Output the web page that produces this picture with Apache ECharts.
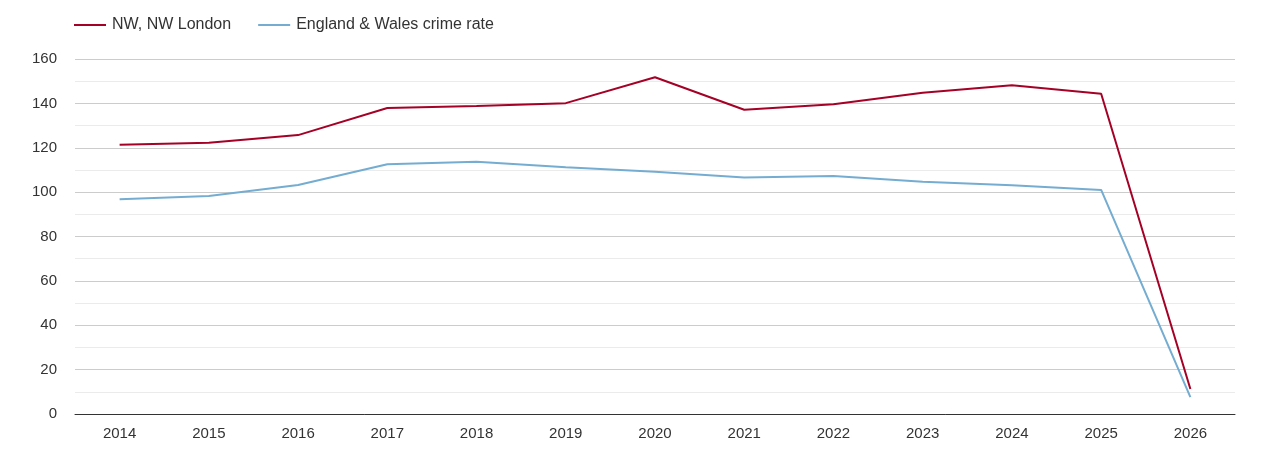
<!DOCTYPE html>
<html><head><meta charset="utf-8">
<script src="https://cdn.jsdelivr.net/npm/echarts@6/dist/echarts.min.js"></script>
<style>html,body{margin:0;padding:0;background:#fff}#c{width:1270px;height:450px}</style>
</head><body><div id="c"></div>
<script>
const years = ['2014','2015','2016','2017','2018','2019','2020','2021','2022','2023','2024','2025','2026'];
const nwLondon = [121.3, 122.2, 125.7, 137.9, 138.8, 140.1, 151.8, 137.1, 139.6, 144.8, 148.2, 144.3, 11.3];
const englandWales = [96.8, 98.3, 103.2, 112.6, 113.7, 111.2, 109.2, 106.6, 107.3, 104.7, 103.1, 101.0, 7.6];
const seriesNames = ['NW, NW London', 'England & Wales crime rate'];

const chart = echarts.init(document.getElementById('c'));
chart.setOption({
  animation: false,
  textStyle: { fontFamily: '"Liberation Sans", Arial, sans-serif' },
  legend: {
    left: 69, top: 12, itemWidth: 32, itemHeight: 2, itemGap: 27,
    icon: 'rect',
    textStyle: { fontSize: 16, color: '#333', padding: [0, 0, 0, 1] },
    data: seriesNames
  },
  grid: { left: 75, right: 35, top: 59, bottom: 36 },
  xAxis: {
    type: 'category', data: years, boundaryGap: true,
    axisLine: { lineStyle: { color: '#333', width: 1 } },
    axisTick: { show: false },
    axisLabel: { fontSize: 15, color: '#333', margin: 12 }
  },
  yAxis: {
    type: 'value', min: 0, max: 160, interval: 20,
    axisLine: { show: false }, axisTick: { show: false },
    axisLabel: { fontSize: 15, color: '#333', margin: 18 },
    splitLine: { lineStyle: { color: '#ccc', width: 1 } },
    minorTick: { show: false, splitNumber: 2 },
    minorSplitLine: { show: true, lineStyle: { color: '#ebebeb', width: 1 } }
  },
  series: [
    { name: seriesNames[0], type: 'line', data: nwLondon, symbol: 'none',
      lineStyle: { color: '#a50026', width: 2 }, itemStyle: { color: '#a50026' } },
    { name: seriesNames[1], type: 'line', data: englandWales, symbol: 'none',
      lineStyle: { color: '#74add1', width: 2 }, itemStyle: { color: '#74add1' } }
  ]
});
</script></body></html>
